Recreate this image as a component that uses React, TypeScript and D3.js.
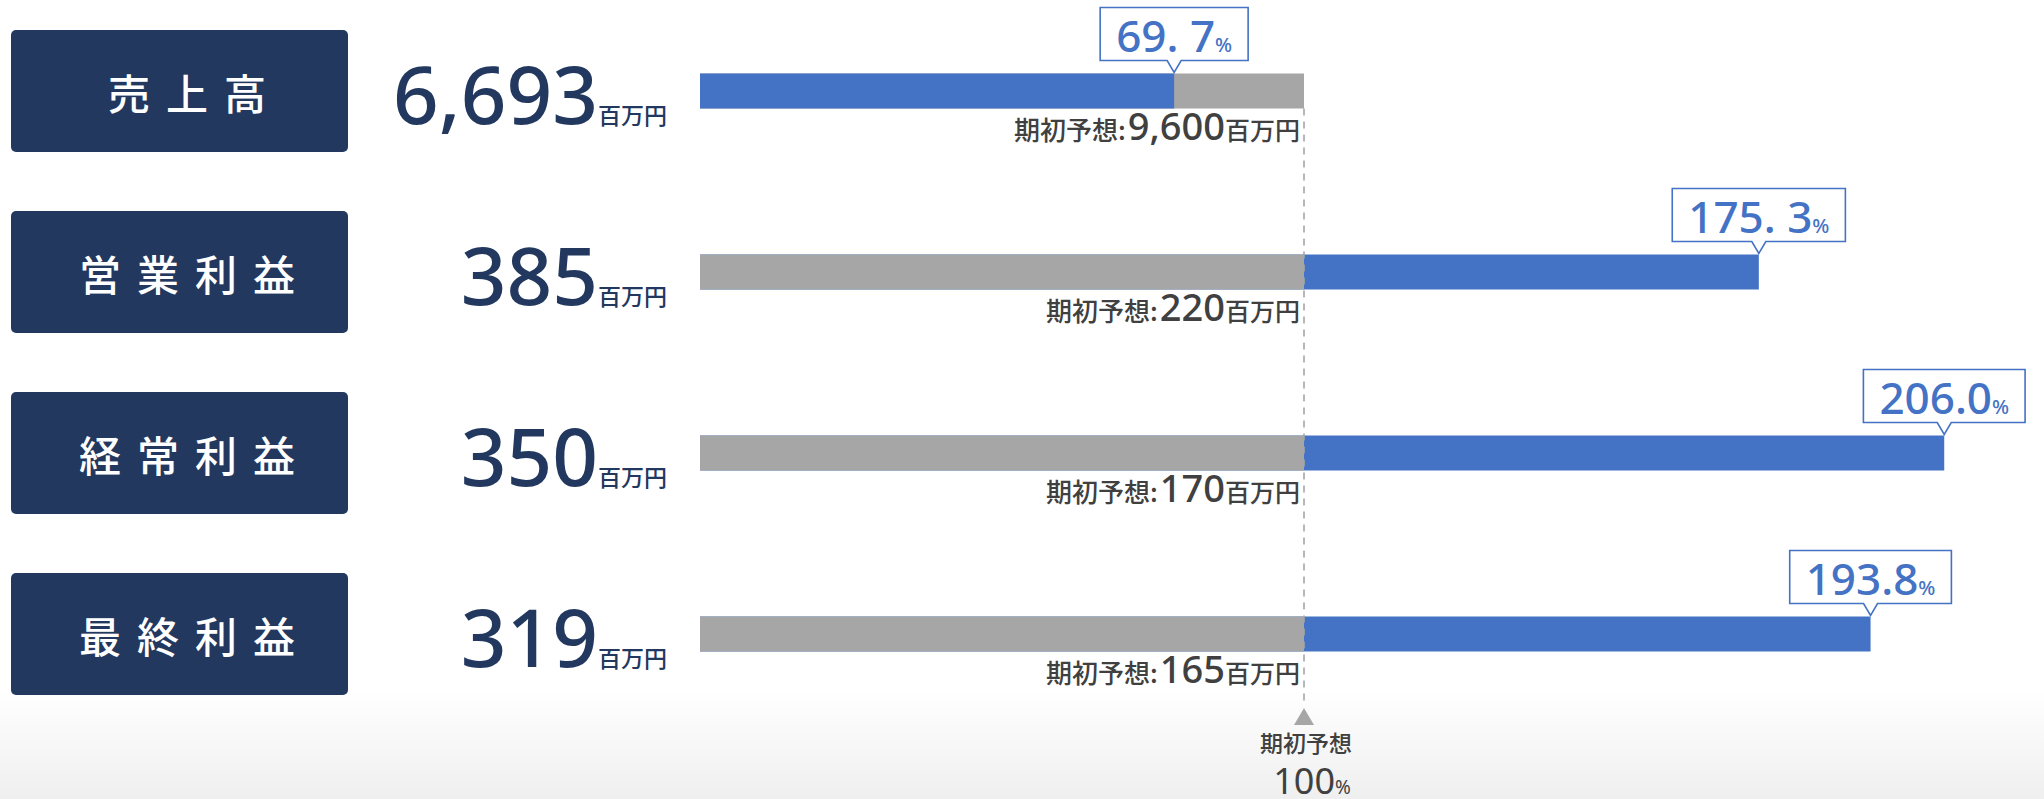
import React, { useLayoutEffect, useRef, useState } from "react";
import * as d3 from "d3";

const categories = ["売上高", "営業利益", "経常利益", "最終利益"];
const actualValues = [6693, 385, 350, 319];
const forecastValues = [9600, 220, 170, 165];
const ratioLabels = ["69. 7", "175. 3", "206.0", "193.8"];
// bar lengths as drawn in the picture, in % of the initial forecast
const barPercents = [78.5, 175.3, 206.0, 193.8];
const unitLabel = "百万円";
const forecastLabel = "期初予想";

const W = 2044;
const H = 799;
const NAVY = "#22385f";
const BLUE = "#4472c4";
const GRAY = "#a6a6a6";
const TEXT = "#404040";
const LATIN = "'Noto Sans', 'Noto Sans CJK JP', sans-serif";
const CJK = "'Noto Sans CJK JP', 'Noto Sans', sans-serif";

const fmt = d3.format(",");

function Callout({ cx, barTop, label }: { cx: number; barTop: number; label: string }) {
  const ref = useRef<SVGTextElement>(null);
  const [tw, setTw] = useState(120);
  useLayoutEffect(() => {
    if (ref.current) setTw(ref.current.getBBox().width);
  }, [label]);
  const w = tw + 32;
  const bottom = barTop - 13;
  const top = bottom - 53;
  const x0 = cx - w / 2;
  const x1 = cx + w / 2;
  const tip = barTop - 1;
  const p = d3.path();
  p.moveTo(x0, top);
  p.lineTo(x1, top);
  p.lineTo(x1, bottom);
  p.lineTo(cx + 7, bottom);
  p.lineTo(cx, tip);
  p.lineTo(cx - 7, bottom);
  p.lineTo(x0, bottom);
  p.closePath();
  return (
    <g>
      <path d={p.toString()} fill="#fff" stroke={BLUE} strokeWidth={1.6} />
      <text
        ref={ref}
        x={cx}
        y={bottom - 9}
        textAnchor="middle"
        fill={BLUE}
        fontFamily={LATIN}
        fontSize={44}
        fontWeight={500}
      >
        <tspan style={{ whiteSpace: "pre" }}>{label}</tspan>
        <tspan fontSize={20}>%</tspan>
      </text>
    </g>
  );
}

export default function App() {
  const y = d3.scalePoint<string>().domain(categories).range([91, 634]);
  const x = d3.scaleLinear().domain([0, 100]).range([700, 1304]);
  const barH = 35;
  const x100 = x(100);

  return (
    <svg
      width={W}
      height={H}
      viewBox={`0 0 ${W} ${H}`}
      style={{ position: "absolute", left: 0, top: 0, display: "block" }}
    >
      <defs>
        <linearGradient id="bg" x1="0" y1="0" x2="0" y2="1">
          <stop offset="0" stopColor="#ffffff" />
          <stop offset="1" stopColor="#efefef" />
        </linearGradient>
      </defs>
      <rect x={0} y={0} width={W} height={H} fill="#fff" />
      <rect x={0} y={690} width={W} height={H - 690} fill="url(#bg)" />

      {categories.map((c, i) => {
        const cy = y(c)!;
        const barTop = cy - barH / 2;
        const pct = barPercents[i];
        const end = x(pct);
        return (
          <g key={c}>
            <rect x={11} y={cy - 61} width={337} height={122} rx={5} fill={NAVY} />
            <text
              x={195}
              y={cy + 19}
              textAnchor="middle"
              fill="#fff"
              fontFamily={CJK}
              fontSize={42}
              fontWeight={500}
              letterSpacing={16}
            >
              {c}
            </text>
            <text x={667} y={cy + 33} textAnchor="end" fill={NAVY} fontFamily={LATIN}>
              <tspan fontSize={80} fontWeight={500}>{fmt(actualValues[i])}</tspan>
              <tspan fontSize={23} fontFamily={CJK} fontWeight={500}>{unitLabel}</tspan>
            </text>
            {pct < 100 ? (
              <g>
                <rect x={x(0)} y={barTop} width={x100 - x(0)} height={barH} fill={GRAY} />
                <rect x={x(0)} y={barTop} width={end - x(0)} height={barH} fill={BLUE} />
              </g>
            ) : (
              <g>
                <rect x={x(0)} y={barTop} width={end - x(0)} height={barH} fill={BLUE} />
                <rect x={x(0)} y={barTop} width={x100 - x(0)} height={barH} fill={GRAY} />
              </g>
            )}
            <text x={1300} y={cy + 49} textAnchor="end" fill={TEXT} fontFamily={CJK} fontWeight={500}>
              <tspan fontSize={26}>{forecastLabel}:</tspan>
              <tspan fontSize={38} fontFamily={LATIN} fontWeight={500} dx={2}>{fmt(forecastValues[i])}</tspan>
              <tspan fontSize={25}>{unitLabel}</tspan>
            </text>
            <Callout cx={end} barTop={barTop} label={ratioLabels[i]} />
          </g>
        );
      })}

      <line
        x1={x100}
        x2={x100}
        y1={y(categories[0])! + barH / 2}
        y2={706}
        stroke={GRAY}
        strokeWidth={1.6}
        strokeDasharray="7,6"
      />
      <path d={`M${x100},708 L${x100 + 10},725 L${x100 - 10},725 Z`} fill={GRAY} />
      <text x={x100 + 2} y={752} textAnchor="middle" fill={TEXT} fontFamily={CJK} fontSize={23} fontWeight={500}>
        {forecastLabel}
      </text>
      <text x={x100 + 8} y={794} textAnchor="middle" fill={TEXT} fontFamily={LATIN}>
        <tspan fontSize={36}>100</tspan>
        <tspan fontSize={19}>%</tspan>
      </text>
    </svg>
  );
}
